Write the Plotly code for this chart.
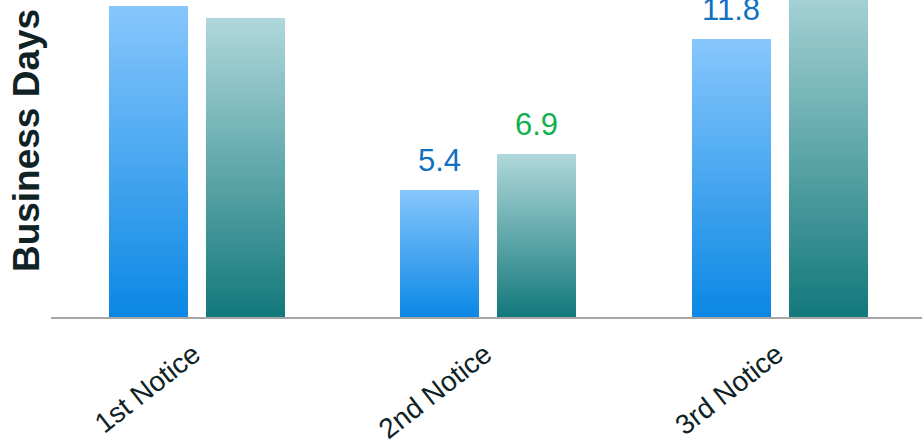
import plotly.graph_objects as go

categories = ["1st Notice", "2nd Notice", "3rd Notice"]
blue_values = [13.2, 5.4, 11.8]
green_values = [12.7, 6.9, 14.6]

# styles
blue_top, blue_bottom = (134, 198, 252), (12, 136, 228)
green_top, green_bottom = (174, 215, 219), (20, 121, 123)
label_colors = ["#1170c0", "#11b050"]
N_SEG = 60
BAR_W = 0.271
OFFSETS = [-0.302, 0.031]


def mix(c1, c2, t):
    return "rgb(%d,%d,%d)" % tuple(round(a + (b - a) * t) for a, b in zip(c1, c2))


fig = go.Figure()
for vals, (ctop, cbot), off in [
    (blue_values, (blue_top, blue_bottom), OFFSETS[0]),
    (green_values, (green_top, green_bottom), OFFSETS[1]),
]:
    for i in range(N_SEG):
        t = i / (N_SEG - 1)
        seg = [v / N_SEG * 1.02 for v in vals]
        fig.add_trace(go.Bar(
            x=categories,
            y=seg,
            base=[v * i / N_SEG for v in vals],
            width=BAR_W,
            offset=off,
            marker=dict(color=mix(cbot, ctop, t), line=dict(width=0)),
            showlegend=False,
            hoverinfo="skip",
        ))

# value labels
for vals, off, col in [(blue_values, OFFSETS[0], label_colors[0]),
                       (green_values, OFFSETS[1], label_colors[1])]:
    for idx, v in enumerate(vals):
        fig.add_annotation(
            x=idx + off + BAR_W / 2, y=v, xref="x", yref="y",
            text=f"{v:.1f}", showarrow=False, yanchor="bottom",
            yshift=10, font=dict(family="Liberation Sans, Arial", size=31, color=col),
        )

fig.add_annotation(
    x=0.0, y=0.555, xref="paper", yref="paper", xanchor="center", yanchor="middle",
    xshift=-25, text="<b>Business Days</b>", textangle=-90, showarrow=False,
    font=dict(family="Liberation Sans, Arial", size=37, color="#0f2326"),
)

fig.update_layout(
    width=922, height=447,
    margin=dict(l=51, r=0, t=0, b=130, autoexpand=False),
    barmode="overlay",
    bargap=0,
    plot_bgcolor="white",
    paper_bgcolor="white",
    showlegend=False,
)
fig.update_xaxes(
    type="category",
    range=[-0.5, 2.488],
    automargin=False,
    showline=True, linecolor="#a6a6a6", linewidth=2,
    ticks="", tickangle=-38,
    tickfont=dict(family="Liberation Sans, Arial", size=28, color="#0f2326"),
    ticklabelstandoff=8,
    ticklabelshift=-3,
    showgrid=False,
)
fig.update_yaxes(
    range=[0, 317 / 23.56],
    automargin=False,
    showticklabels=False, showgrid=False, zeroline=False, showline=False,
)

fig.write_html(
    "out.html",
    config={"displayModeBar": False},
    post_script="document.body.style.margin='0';document.body.style.overflow='hidden';",
)
